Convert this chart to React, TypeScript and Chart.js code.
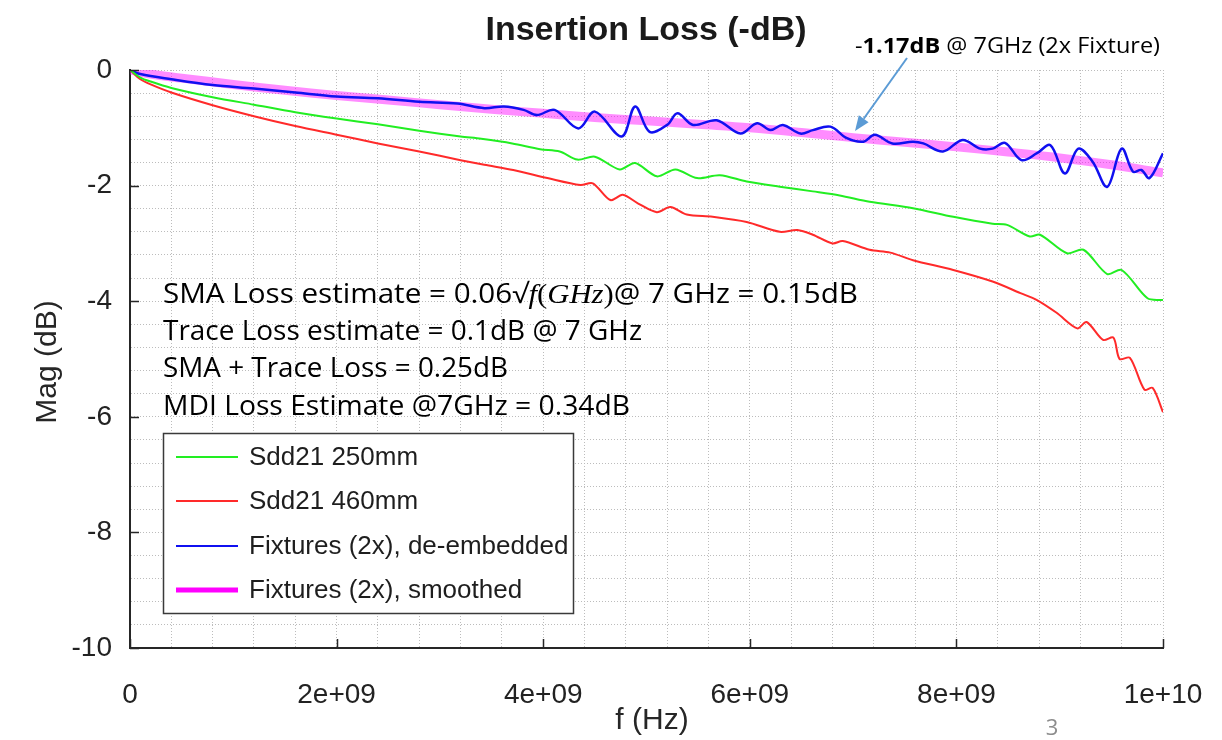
import React, { useEffect, useRef } from 'react';
import { Chart, registerables } from 'chart.js';

Chart.register(...registerables);

// ---- Data (frequency in GHz, magnitude in dB) ----
const f250 = [0, 0.1, 0.2, 0.4, 0.8, 1.2, 1.6, 2.0, 2.4, 2.8, 3.2, 3.4, 3.7, 3.97, 4.16, 4.33, 4.5, 4.74, 4.89, 5.1, 5.28, 5.49, 5.71, 5.97, 6.29, 6.61, 6.87, 7.16, 7.58, 7.97, 8.35, 8.49, 8.71, 8.81, 9.07, 9.23, 9.46, 9.6, 9.85, 10];
const mag250 = [0, -0.13, -0.2, -0.31, -0.47, -0.6, -0.73, -0.84, -0.94, -1.05, -1.15, -1.19, -1.27, -1.37, -1.41, -1.55, -1.5, -1.72, -1.61, -1.84, -1.72, -1.87, -1.82, -1.93, -2.02, -2.1, -2.17, -2.28, -2.39, -2.54, -2.66, -2.68, -2.88, -2.85, -3.17, -3.11, -3.53, -3.46, -3.95, -3.98];

const f460 = [0, 0.1, 0.2, 0.4, 0.8, 1.2, 1.6, 2.0, 2.4, 2.8, 3.2, 3.43, 3.71, 4.04, 4.36, 4.48, 4.65, 4.77, 4.92, 5.1, 5.23, 5.39, 5.64, 5.97, 6.29, 6.46, 6.61, 6.8, 6.9, 7.16, 7.36, 7.58, 7.97, 8.35, 8.62, 8.78, 8.97, 9.17, 9.26, 9.42, 9.52, 9.58, 9.68, 9.82, 9.9, 10];
const mag460 = [0, -0.16, -0.25, -0.39, -0.61, -0.8, -0.97, -1.12, -1.27, -1.41, -1.56, -1.64, -1.73, -1.87, -1.99, -1.96, -2.25, -2.16, -2.31, -2.46, -2.37, -2.5, -2.54, -2.63, -2.8, -2.77, -2.85, -3.0, -2.96, -3.11, -3.16, -3.29, -3.46, -3.66, -3.86, -3.98, -4.2, -4.47, -4.36, -4.67, -4.63, -5.0, -4.98, -5.53, -5.5, -5.92];

const fFix = [0, 0.1, 0.4, 0.8, 1.2, 1.6, 2.0, 2.4, 2.8, 3.17, 3.43, 3.62, 3.81, 3.94, 4.11, 4.34, 4.5, 4.76, 4.89, 5.03, 5.2, 5.3, 5.45, 5.68, 5.91, 6.07, 6.2, 6.32, 6.49, 6.61, 6.78, 6.94, 7.1, 7.21, 7.38, 7.58, 7.68, 7.87, 8.06, 8.23, 8.35, 8.47, 8.63, 8.78, 8.91, 9.05, 9.18, 9.32, 9.46, 9.6, 9.71, 9.79, 9.87, 10];
const magFix = [0, -0.07, -0.16, -0.26, -0.32, -0.39, -0.46, -0.49, -0.55, -0.58, -0.66, -0.63, -0.69, -0.78, -0.69, -1.01, -0.72, -1.15, -0.63, -1.07, -0.95, -0.75, -0.95, -0.87, -1.1, -0.92, -1.04, -0.95, -1.1, -1.04, -0.98, -1.18, -1.24, -1.12, -1.27, -1.24, -1.27, -1.41, -1.21, -1.36, -1.36, -1.26, -1.56, -1.44, -1.3, -1.79, -1.36, -1.59, -2.02, -1.36, -1.76, -1.73, -1.87, -1.44];

const fSmooth = [0, 0.2, 0.5, 1, 1.5, 2, 2.5, 3, 3.5, 4, 4.5, 5, 5.5, 6, 6.5, 7, 7.5, 8, 8.5, 9, 9.5, 10];
const magSmooth = [0, -0.07, -0.14, -0.25, -0.35, -0.44, -0.52, -0.6, -0.68, -0.75, -0.82, -0.88, -0.94, -1.0, -1.08, -1.17, -1.25, -1.33, -1.42, -1.52, -1.64, -1.78];

const seriesNames = ['Sdd21 250mm', 'Sdd21 460mm', 'Fixtures (2x), de-embedded', 'Fixtures (2x), smoothed'];
const xMajor = [0, 2e9, 4e9, 6e9, 8e9, 1e10];
const xTickLabels = ['0', '2e+09', '4e+09', '6e+09', '8e+09', '1e+10'];
const yMajor = [0, -2, -4, -6, -8, -10];
const yTickLabels = ['0', '-2', '-4', '-6', '-8', '-10'];

const titleText = 'Insertion Loss (-dB)';
const xTitle = 'f (Hz)';
const yTitle = 'Mag (dB)';
const noteLines = [
  'Trace Loss estimate = 0.1dB @ 7 GHz',
  'SMA + Trace Loss = 0.25dB',
  'MDI Loss Estimate @7GHz = 0.34dB',
];
const pageNumber = '3';

const COLORS = {
  green: '#22ee22',
  red: '#ff2a2a',
  blue: '#1010f0',
  magenta: 'rgba(255,0,255,0.45)',
  magentaSolid: '#ff00ff',
};

const toPts = (f: number[], m: number[]) => f.map((v, i) => ({ x: v * 1e9, y: m[i] }));

const SANS = '"Liberation Sans", Arial, Helvetica, sans-serif';
const CAL = '"Open Sans", "Noto Sans", sans-serif';
const MATH = '"Liberation Serif", "DejaVu Serif", serif';

type Seg = { t: string; font: string };

function drawFit(ctx: CanvasRenderingContext2D, segs: Seg[], x: number, y: number, width: number) {
  let natural = 0;
  for (const s of segs) {
    ctx.font = s.font;
    natural += ctx.measureText(s.t).width;
  }
  const k = width / natural;
  ctx.save();
  ctx.translate(x, y);
  ctx.scale(k, 1);
  let cx = 0;
  ctx.textAlign = 'left';
  ctx.textBaseline = 'alphabetic';
  for (const s of segs) {
    ctx.font = s.font;
    ctx.fillText(s.t, cx, 0);
    cx += ctx.measureText(s.t).width;
  }
  ctx.restore();
}

const overlay = {
  id: 'overlay',
  afterDraw(chart: any) {
    const ctx: CanvasRenderingContext2D = chart.ctx;
    const xs = chart.scales.x;
    const ys = chart.scales.y;
    const ca = chart.chartArea;
    ctx.save();

    // inward major tick marks
    ctx.strokeStyle = '#262626';
    ctx.lineWidth = 1.5;
    ctx.beginPath();
    yMajor.forEach((v) => {
      const py = Math.round(ys.getPixelForValue(v)) + 0.5;
      ctx.moveTo(ca.left, py);
      ctx.lineTo(ca.left + 9, py);
    });
    xMajor.forEach((v) => {
      const px = Math.round(xs.getPixelForValue(v)) + 0.5;
      ctx.moveTo(px, ca.bottom);
      ctx.lineTo(px, ca.bottom - 9);
    });
    ctx.stroke();

    // title
    ctx.fillStyle = '#1a1a1a';
    ctx.font = `bold 34px ${SANS}`;
    ctx.textAlign = 'center';
    ctx.textBaseline = 'alphabetic';
    ctx.fillText(titleText, 646, 40);

    // axis titles
    ctx.fillStyle = '#262626';
    ctx.font = `30px ${SANS}`;
    ctx.fillText(xTitle, 652, 729);
    ctx.save();
    ctx.translate(56, 362);
    ctx.rotate(-Math.PI / 2);
    ctx.fillText(yTitle, 0, 0);
    ctx.restore();

    // notes
    ctx.fillStyle = '#000';
    const nf = `27px ${CAL}`;
    drawFit(ctx, [
      { t: 'SMA Loss estimate = 0.06\u221A', font: nf },
      { t: 'f', font: `italic 28px ${MATH}` },
      { t: '(', font: `28px ${MATH}` },
      { t: 'GHz', font: `italic 28px ${MATH}` },
      { t: ')', font: `28px ${MATH}` },
      { t: '@ 7 GHz = 0.15dB', font: nf },
    ], 163, 303, 695);
    drawFit(ctx, [{ t: noteLines[0], font: nf }], 163, 340, 479);
    drawFit(ctx, [{ t: noteLines[1], font: nf }], 163, 377, 345);
    drawFit(ctx, [{ t: noteLines[2], font: nf }], 163, 415, 467);

    // top annotation
    const af = `22px ${CAL}`;
    drawFit(ctx, [
      { t: '-', font: af },
      { t: '1.17dB', font: `bold 22px ${CAL}` },
      { t: ' @ 7GHz (2x Fixture)', font: af },
    ], 855, 53, 305);

    // arrow
    const ax1 = 907, ay1 = 58, ax2 = 855, ay2 = 131;
    ctx.strokeStyle = '#5b9bd5';
    ctx.fillStyle = '#5b9bd5';
    ctx.lineWidth = 2;
    const ang = Math.atan2(ay2 - ay1, ax2 - ax1);
    const hl = 15, hw = 6;
    const bx = ax2 - hl * Math.cos(ang), by = ay2 - hl * Math.sin(ang);
    ctx.beginPath();
    ctx.moveTo(ax1, ay1);
    ctx.lineTo(bx, by);
    ctx.stroke();
    ctx.beginPath();
    ctx.moveTo(ax2, ay2);
    ctx.lineTo(bx + hw * Math.sin(ang), by - hw * Math.cos(ang));
    ctx.lineTo(bx - hw * Math.sin(ang), by + hw * Math.cos(ang));
    ctx.closePath();
    ctx.fill();

    // legend
    const lx = 163, ly = 433, lw = 410, lh = 180;
    ctx.fillStyle = '#fff';
    ctx.fillRect(lx, ly, lw, lh);
    ctx.strokeStyle = '#3a3a3a';
    ctx.lineWidth = 1.5;
    ctx.strokeRect(lx + 0.5, ly + 0.5, lw, lh);
    const lcol = [COLORS.green, COLORS.red, COLORS.blue, COLORS.magentaSolid];
    const lwid = [2, 2, 2, 5];
    const lys = [457, 501, 546, 590];
    ctx.font = `26px ${SANS}`;
    ctx.textAlign = 'left';
    ctx.textBaseline = 'middle';
    seriesNames.forEach((name, i) => {
      ctx.strokeStyle = lcol[i];
      ctx.lineWidth = lwid[i];
      ctx.beginPath();
      ctx.moveTo(176, lys[i]);
      ctx.lineTo(238, lys[i]);
      ctx.stroke();
      ctx.fillStyle = '#1e1e1e';
      ctx.fillText(name, 249, lys[i] + 1);
    });

    // page number
    ctx.fillStyle = '#8c8c8c';
    ctx.font = `22px ${CAL}`;
    ctx.textAlign = 'center';
    ctx.textBaseline = 'alphabetic';
    ctx.fillText(pageNumber, 1052, 735);

    ctx.restore();
  },
};

export default function App() {
  const ref = useRef<HTMLCanvasElement | null>(null);

  useEffect(() => {
    document.body.style.margin = '0';
    const canvas = ref.current;
    if (!canvas) return;
    const gridColor = '#bcbcbc';
    const tickFont = { family: SANS, size: 28 };
    const chart = new Chart(canvas, {
      type: 'line',
      data: {
        datasets: [
          { label: seriesNames[0], data: toPts(f250, mag250), borderColor: COLORS.green, borderWidth: 2, tension: 0.3, pointRadius: 0 },
          { label: seriesNames[1], data: toPts(f460, mag460), borderColor: COLORS.red, borderWidth: 2, tension: 0.3, pointRadius: 0 },
          { label: seriesNames[2], data: toPts(fFix, magFix), borderColor: COLORS.blue, borderWidth: 2.5, tension: 0.35, pointRadius: 0 },
          { label: seriesNames[3], data: toPts(fSmooth, magSmooth), borderColor: COLORS.magenta, borderWidth: 9, tension: 0.4, pointRadius: 0 },
        ],
      },
      options: {
        animation: false,
        responsive: true,
        maintainAspectRatio: false,
        layout: { padding: { top: 70, right: 59, left: 0, bottom: 0 } },
        plugins: { legend: { display: false }, tooltip: { enabled: false }, title: { display: false } },
        scales: {
          x: {
            type: 'linear',
            min: 0,
            max: 1e10,
            afterFit: (s: any) => { s.height = 92; s.paddingLeft = 0; s.paddingRight = 0; },
            grid: { color: gridColor, lineWidth: 1, drawTicks: false },
            border: { display: true, color: '#262626', width: 2, dash: [1, 2] },
            ticks: {
              stepSize: 4e8,
              autoSkip: false,
              maxRotation: 0,
              padding: 30,
              color: '#222',
              font: tickFont,
              callback: (v: any) => {
                const i = Math.round(Number(v) / 4e8);
                return i % 5 === 0 ? xTickLabels[i / 5] : '';
              },
            },
          },
          y: {
            type: 'linear',
            min: -10,
            max: 0,
            afterFit: (s: any) => { s.width = 130; s.paddingTop = 0; s.paddingBottom = 0; },
            grid: { color: gridColor, lineWidth: 1, drawTicks: false },
            border: { display: true, color: '#262626', width: 2, dash: [1, 2] },
            ticks: {
              stepSize: 0.4,
              autoSkip: false,
              padding: 18,
              color: '#222',
              font: tickFont,
              callback: (v: any) => {
                const i = Math.round(-Number(v) / 0.4);
                return i % 5 === 0 ? yTickLabels[i / 5] : '';
              },
            },
          },
        },
      },
      plugins: [overlay],
    } as any);
    return () => chart.destroy();
  }, []);

  return (
    <div style={{ width: 1222, height: 740, position: 'relative', background: '#fff' }}>
      <canvas ref={ref} />
    </div>
  );
}
